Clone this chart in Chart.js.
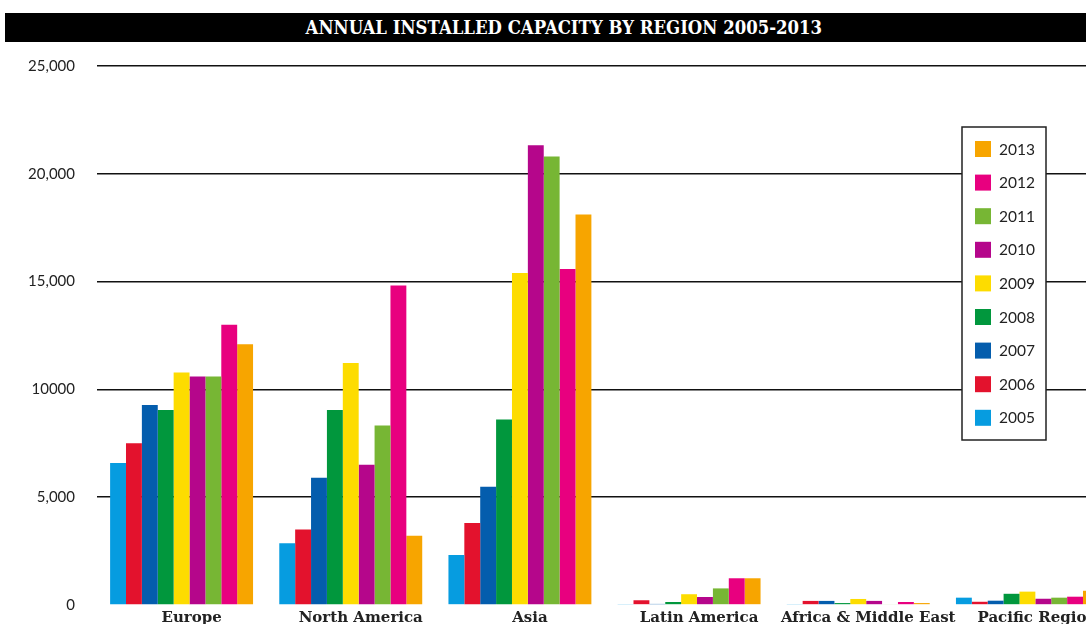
<!DOCTYPE html>
<html>
<head>
<meta charset="utf-8">
<title>Annual installed capacity by region 2005-2013</title>
<script src="https://cdn.jsdelivr.net/npm/chart.js@4.4.1/dist/chart.umd.min.js"></script>
<style>
  html, body { margin: 0; padding: 0; background: #fff; overflow: hidden; width: 1086px; height: 624px; }
  #wrap { position: relative; width: 1086px; height: 624px; overflow: hidden; }
  #chart { position: absolute; left: 0; top: 0; }
  #title {
    position: absolute; left: 5px; top: 13px; width: 1118px; height: 29px;
    background: #000; color: #fff; text-align: center;
    font: bold 19px "DejaVu Serif", serif; line-height: 29px;
  }
  #title span { display: inline-block; transform: scaleX(0.87); transform-origin: 50% 50%; white-space: nowrap; }
</style>
</head>
<body>
<div id="wrap">
  <canvas id="chart" width="1112" height="640"></canvas>
  <div id="title"><span>ANNUAL INSTALLED CAPACITY BY REGION 2005-2013</span></div>
</div>
<script>
// Regions on the category axis
const regions = ["Europe", "North America", "Asia", "Latin America", "Africa & Middle East", "Pacific Region"];

// Annual installed capacity (MW) per year, one value per region
const y2005 = [6590, 2860, 2320, 30, 30, 340];
const y2006 = [7500, 3500, 3800, 220, 190, 150];
const y2007 = [9280, 5900, 5490, 50, 190, 200];
const y2008 = [9050, 9050, 8600, 140, 90, 520];
const y2009 = [10780, 11230, 15400, 500, 280, 620];
const y2010 = [10600, 6500, 21320, 370, 190, 290];
const y2011 = [10600, 8320, 20800, 770, 40, 340];
const y2012 = [13000, 14820, 15580, 1240, 140, 385];
const y2013 = [12090, 3210, 18110, 1240, 90, 660];

// Value-axis tick labels, bottom to top
const yTickLabels = ["0", "5,000", "10000", "15,000", "20,000", "25,000"];

const years = ["2005", "2006", "2007", "2008", "2009", "2010", "2011", "2012", "2013"];
const series = [y2005, y2006, y2007, y2008, y2009, y2010, y2011, y2012, y2013];
const colors = ["#069ce0", "#e3122d", "#045dad", "#01973d", "#fddc00", "#b5068b", "#77b634", "#e8007f", "#f7a500"];

// Boxed legend inside the plot, newest year on top
const boxLegend = {
  id: "boxLegend",
  afterDraw(chart, args, opts) {
    const ctx = chart.ctx;
    const ds = chart.data.datasets;
    ctx.save();
    ctx.fillStyle = "#fff";
    ctx.fillRect(opts.x, opts.y, opts.w, opts.h);
    ctx.strokeStyle = "#222";
    ctx.lineWidth = 1.5;
    ctx.strokeRect(opts.x, opts.y, opts.w, opts.h);
    ctx.font = opts.font;
    ctx.textBaseline = "middle";
    ctx.textAlign = "left";
    for (let i = 0; i < ds.length; i++) {
      const d = ds[ds.length - 1 - i];
      const top = opts.y + opts.first + i * opts.step;
      ctx.fillStyle = d.backgroundColor;
      ctx.fillRect(opts.x + 13, top, 16, 16);
      ctx.fillStyle = "#222";
      ctx.fillText(d.label, opts.x + 37, top + 8.5);
    }
    ctx.restore();
  }
};

new Chart(document.getElementById("chart"), {
  type: "bar",
  data: {
    labels: regions,
    datasets: series.map((values, i) => ({
      label: years[i],
      data: values,
      backgroundColor: colors[i],
      borderWidth: 0,
      barPercentage: 1,
      categoryPercentage: 0.845
    }))
  },
  plugins: [boxLegend],
  options: {
    responsive: false,
    animation: false,
    devicePixelRatio: 1,
    layout: { padding: { top: 66, left: 0, right: 0, bottom: 0 } },
    plugins: {
      legend: { display: false },
      title: { display: false },
      tooltip: { enabled: false },
      boxLegend: { x: 962, y: 127, w: 84, h: 313, first: 14, step: 33.6, font: "15.5px Lato" }
    },
    scales: {
      x: {
        grid: { display: false, drawTicks: false },
        border: { display: false },
        ticks: {
          autoSkip: false,
          maxRotation: 0,
          padding: 4,
          labelOffset: 10,
          color: "#222",
          font: { family: "DejaVu Serif", weight: "bold", size: 15 }
        },
        afterFit(scale) { scale.height = 35; }
      },
      y: {
        min: 0,
        max: 25000,
        grid: {
          drawTicks: false,
          lineWidth: 1.6,
          color: (c) => (c.tick && c.tick.value === 0 ? "rgba(0,0,0,0)" : "#111")
        },
        border: { display: false },
        ticks: {
          stepSize: 5000,
          padding: 22,
          color: "#222",
          font: { family: "Lato", size: 15 },
          callback: (value, index) => yTickLabels[index]
        },
        afterFit(scale) { scale.width = 97; }
      }
    }
  }
});
</script>
</body>
</html>
